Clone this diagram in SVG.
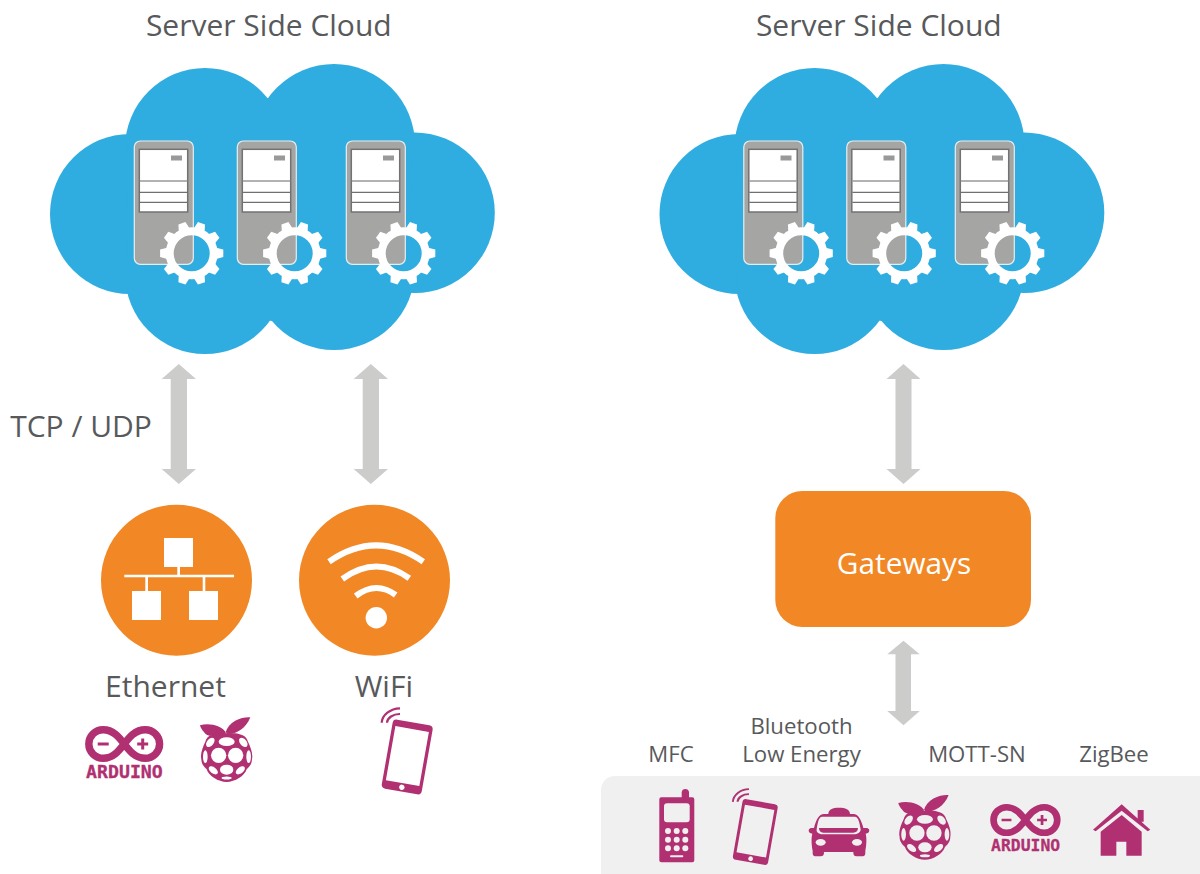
<svg xmlns="http://www.w3.org/2000/svg" xmlns:xlink="http://www.w3.org/1999/xlink" width="1200" height="874" viewBox="0 0 1200 874">
<style>
.t{font-family:"Open Sans","Noto Sans","Liberation Sans",sans-serif;fill:#58595b;text-anchor:middle}
.t30{font-size:30px}.t28{font-size:29.800px}.t22{font-size:22.200px}
.arrow{fill:#cccccb}
.orange{fill:#f18825}
.w{fill:#fff}
.m{fill:#b03072}
.p{fill:#f0f0f0}
.cloud{fill:#2fade1}
.ard{font-family:"DejaVu Sans Mono","Liberation Mono",monospace;font-weight:700;font-size:17px;fill:#b03072;text-anchor:middle;stroke:#b03072;stroke-width:.3px}
</style>
<defs>
<path id="tooth" d="M24.500,-5.600L31.600,-3.700V3.700L24.500,5.600Z" fill="#fff"/>
<g id="gear">
<circle r="22" fill="none" stroke="#fff" stroke-width="8"/>
<use href="#tooth"/><use href="#tooth" transform="rotate(36)"/><use href="#tooth" transform="rotate(72)"/><use href="#tooth" transform="rotate(108)"/><use href="#tooth" transform="rotate(144)"/><use href="#tooth" transform="rotate(180)"/><use href="#tooth" transform="rotate(216)"/><use href="#tooth" transform="rotate(252)"/><use href="#tooth" transform="rotate(288)"/><use href="#tooth" transform="rotate(324)"/>
</g>
<g id="server">
<rect x="0" y="0" width="59" height="123.300" rx="6" fill="#a5a5a4" stroke="#e8eef0" stroke-width="1.200"/>
<rect x="5" y="8.300" width="48.400" height="62.700" fill="#fff" stroke="#727272" stroke-width="1.500"/>
<path d="M5.500,40H53" stroke="#999" stroke-width="1.300"/>
<path d="M5.500,51.300H53M5.500,61.300H53" stroke="#707070" stroke-width="1.200"/>
<rect x="36.700" y="14.500" width="11" height="5" fill="#999"/>
<use href="#gear" x="57.400" y="112.300"/>
</g>
<g id="cloudShape" class="cloud">
<circle cx="130" cy="214" r="80"/><circle cx="205" cy="148" r="80"/><circle cx="334" cy="145" r="81"/><circle cx="414.500" cy="212.700" r="80.300"/><circle cx="205" cy="274" r="80"/><circle cx="334" cy="269" r="81"/>
<path d="M127,134L268,98L413,132L411,293L272,321L128,294Z"/>
</g>
<g id="arduino">
<path d="M0,0C-5,-6.500 -11,-14.200 -21,-14.200C-29,-14.200 -35.400,-7.800 -35.400,0C-35.400,7.800 -29,14.200 -21,14.200C-11,14.200 -5,6.500 0,0C5,-6.500 11,-14.200 21,-14.200C29,-14.200 35.400,-7.800 35.400,0C35.400,7.800 29,14.200 21,14.200C11,14.200 5,6.500 0,0Z" fill="none" stroke="#b03072" stroke-width="7.400"/>
<path d="M-26.500,-1.500h11v3h-11zM13,-1.500h11v3h-11zM17,-5.500h3v11h-3z" class="m"/>
<text class="ard" x="0.200" y="34.300" textLength="76.700" lengthAdjust="spacingAndGlyphs">ARDUINO</text>
</g>
<mask id="rpCells" maskUnits="userSpaceOnUse" x="380" y="40" width="180" height="220">
<rect x="380" y="40" width="180" height="220" fill="#fff"/>
<g fill="#000">
<ellipse cx="470" cy="125" rx="24" ry="13"/>
<circle cx="446" cy="166" r="23"/><circle cx="497" cy="166" r="23"/>
<ellipse cx="470" cy="209" rx="20" ry="15"/>
<ellipse cx="421" cy="127" rx="10" ry="16" transform="rotate(40 421 127)"/>
<ellipse cx="520" cy="127" rx="10" ry="16" transform="rotate(-40 520 127)"/>
<ellipse cx="406" cy="170" rx="7" ry="19"/><ellipse cx="536" cy="170" rx="7" ry="19"/>
<ellipse cx="430" cy="211" rx="16" ry="9" transform="rotate(38 430 211)"/>
<ellipse cx="511" cy="211" rx="16" ry="9" transform="rotate(-38 511 211)"/>
<ellipse cx="470" cy="234" rx="15" ry="4.500"/>
</g>
</mask>
<g id="raspberry" transform="scale(.3333)">
<path class="m" d="M390,76C418,68 455,76 470,100C450,110 412,114 402,96C396,90 392,84 390,76ZM541,52C518,50 476,62 466,100C486,108 526,92 541,52Z"/>
<path class="m" mask="url(#rpCells)" d="M470,100C498,98 528,100 534,125C541,140 550,160 546,178C546,192 538,200 530,208C524,228 495,246 470,246C445,246 416,228 410,208C402,200 394,192 394,178C390,160 399,140 406,125C412,100 442,98 470,100Z"/>
</g>
<g id="smartphone">
<path class="m" fill-rule="evenodd" transform="rotate(10)" d="M-16.300,-35H16.300a4,4 0 0 1 4,4V31a4,4 0 0 1 -4,4H-16.300a4,4 0 0 1 -4,-4V-31a4,4 0 0 1 4,-4ZM-17,-28.500V26.500H17V-28.500ZM0,28.100a2.700,2.700 0 1 0 0.010,0Z"/>
<path d="M-25.500,-34.300C-25,-42 -17,-48.500 -7.200,-48.700M-20.200,-34.300C-20,-39 -14,-43.200 -7.200,-43" fill="none" stroke="#b03072" stroke-width="2.200"/>
</g>
</defs>

<g id="panel-devices"><rect class="p" x="601" y="776" width="612" height="110" rx="14"/></g>

<g id="cloud-left"><use href="#cloudShape"/>
<use href="#server" x="134.300" y="141"/><use href="#server" x="237.300" y="141"/><use href="#server" x="346.300" y="141"/></g>
<g id="cloud-right"><use href="#cloudShape" x="609.500"/>
<use href="#server" x="743.800" y="141"/><use href="#server" x="846.800" y="141"/><use href="#server" x="955.300" y="141"/></g>

<g id="label-cloud-left"><text class="t t30" x="268.800" y="36">Server Side Cloud</text></g>
<g id="label-cloud-right"><text class="t t30" x="878.800" y="36">Server Side Cloud</text></g>
<g id="label-protocol"><text class="t t30" x="81" y="437">TCP / UDP</text></g>

<g id="connectors">
<path class="arrow" d="M178.800,364L196,379H187V469H196L178.800,484L161.700,469H170.700V379H161.700Z"/>
<path class="arrow" d="M370.800,364L388,379H379V469H388L370.800,484L353.700,469H362.700V379H353.700Z"/>
<path class="arrow" d="M903.500,364L920.500,379H911.500V469H920.500L903.500,484L886.500,469H895.500V379H886.500Z"/>
<path class="arrow" d="M903.500,640.700L919.700,654.300H911V711H919.700L903.500,725.300L887.300,711H895.500V654.300H887.300Z"/>
</g>

<g id="node-ethernet">
<circle class="orange" cx="176.500" cy="580.300" r="75.500"/>
<path class="w" d="M164,538h29v29h-29zM132,591h29v29h-29zM189,591h29v29h-29zM124.300,574.700H234v2.600H124.300zM177.300,567H180v8h-2.700zM145.300,575H148v16h-2.700zM202.700,575h2.600v16h-2.600z"/>
<text class="t t30" x="165.500" y="697">Ethernet</text>
</g>
<g id="node-wifi">
<circle class="orange" cx="374.500" cy="580.300" r="75.500"/>
<g fill="none" stroke="#fff" stroke-width="6"><path d="M329,561.700Q376,529 423.300,561.700"/><path d="M342.300,579Q376,554.400 409.300,578.300"/><path d="M355.700,596Q376,580.600 395.700,595"/></g>
<circle class="w" cx="376.300" cy="617.700" r="10.700"/>
<text class="t t30" x="383.800" y="697">WiFi</text>
</g>
<g id="icon-arduino-left"><use href="#arduino" transform="translate(124.200,744)"/></g>
<g id="icon-raspberry-left" transform="translate(70,700)"><use href="#raspberry"/></g>
<g id="icon-phone-left"><use href="#smartphone" transform="translate(407.200,757)"/></g>

<g id="node-gateways">
<rect class="orange" x="775.300" y="491" width="255.700" height="136" rx="27"/>
<text class="t t28" x="904" y="574" style="fill:#fff">Gateways</text>
</g>

<g id="labels-devices">
<text class="t t22" x="671" y="762">MFC</text>
<text class="t t22" x="801.500" y="734">Bluetooth</text>
<text class="t t22" x="801.500" y="762">Low Energy</text>
<text class="t t22" x="977" y="762">MOTT-SN</text>
<text class="t t22" x="1114" y="762">ZigBee</text>
</g>

<g id="icon-feature-phone">
<path class="m" d="M681.700,797.300V792a3.700,3.700 0 0 1 7.300,0V797.300H692.300a2,2 0 0 1 2,2V860.300a2,2 0 0 1 -2,2H661.300a2,2 0 0 1 -2,-2V799.300a2,2 0 0 1 2,-2Z"/>
<rect class="p" x="664" y="803.300" width="25.700" height="19" rx="3"/>
<g class="p"><circle cx="668" cy="831" r="3"/><circle cx="676.700" cy="831" r="3"/><circle cx="685.300" cy="831" r="3"/><circle cx="668" cy="839.700" r="3"/><circle cx="676.700" cy="839.700" r="3"/><circle cx="685.300" cy="839.700" r="3"/><circle cx="668" cy="848.300" r="3"/><circle cx="676.700" cy="848.300" r="3"/><circle cx="685.300" cy="848.300" r="3"/></g>
<rect class="p" x="670" y="855.300" width="13.300" height="2" rx="1"/>
</g>
<g id="icon-phone-right"><use href="#smartphone" transform="translate(755.300,832) scale(.88)"/></g>
<g id="icon-car" transform="translate(800,800) scale(.3333)">
<path class="m" d="M85,42C85,28 98,23 117,23C136,23 150,28 150,42H160C175,42 184,60 190,84H200C211,85 211,100 197,101C201,115 199,140 196,152V160C195,170 190,169 182,169H170C162,169 160,165 160,156H72C72,165 70,169 62,169H50C42,169 38,168 38,160V152C35,140 33,115 37,101C23,100 23,85 34,84H42C48,60 57,42 72,42Z"/>
<path class="p" d="M66,50H165C173,50 178,62 182,88C182,98 172,103 162,103H68C58,103 48,98 50,88C54,62 58,50 66,50Z"/>
<path class="m" d="M57,84H174C174,93 168,98 160,98H70C62,98 57,93 57,84Z"/>
<ellipse class="p" cx="62" cy="127" rx="15" ry="10"/><ellipse class="p" cx="171" cy="127" rx="15" ry="10"/>
</g>
<g id="icon-raspberry-right" transform="translate(768.300,777.700)"><use href="#raspberry"/></g>
<g id="icon-arduino-right"><use href="#arduino" transform="translate(1025.400,820) scale(.9)"/></g>
<g id="icon-home" transform="translate(1085,795) scale(.3333)">
<path class="m" d="M158,45H176V80H158ZM110,28L196,104L188,109L110,47L32,109L24,104Z"/>
<path class="m" d="M110,60L170,110V182H124V140H94V182H47V110Z"/>
</g>
</svg>
